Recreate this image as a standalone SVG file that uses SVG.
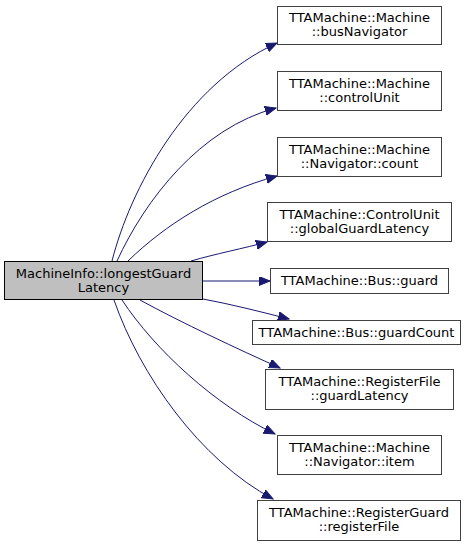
<svg xmlns="http://www.w3.org/2000/svg" width="473" height="547" viewBox="0 0 473 547">
<defs>
<style>
.n rect{fill:#ffffff;stroke:#404040;stroke-width:1}
.n.root rect{fill:#bfbfbf;stroke:#000000}
text{font-family:"DejaVu Sans","Liberation Sans",sans-serif;font-size:13px;text-anchor:middle;fill:#000000}
.e path{fill:none;stroke:#191970;stroke-width:1}
</style>
<marker id="ah" markerUnits="userSpaceOnUse" markerWidth="13" markerHeight="10" refX="11" refY="4.5" orient="auto">
<path d="M0,0 L11,4.5 L0,9 z" fill="#191970" stroke="#191970"/>
</marker>
</defs>
<rect width="473" height="547" fill="#ffffff"/>
<g id="edges" class="e">
<path d="M112,261 C130,190 185,85 277,43" marker-end="url(#ah)"/>
<path d="M117,261 C145,200 200,128 276,108" marker-end="url(#ah)"/>
<path d="M128,261 C165,225 215,193 277,176" marker-end="url(#ah)"/>
<path d="M191,261 C215,254 245,248 267,242" marker-end="url(#ah)"/>
<path d="M203,281 L270,281" marker-end="url(#ah)"/>
<path d="M203,299 C230,304 262,312 289,319" marker-end="url(#ah)"/>
<path d="M140,300 C180,322 240,350 280,368" marker-end="url(#ah)"/>
<path d="M122,300 C155,350 215,405 275,434" marker-end="url(#ah)"/>
<path d="M114,300 C140,375 200,460 273,499" marker-end="url(#ah)"/>
</g>
<g id="root" class="n root">
<rect x="4.5" y="261.5" width="198" height="38"/>
<text x="103.5" y="278">MachineInfo::longestGuard</text>
<text x="103.5" y="292">Latency</text>
</g>
<g id="busNavigator" class="n">
<rect x="277.5" y="6.5" width="164" height="38"/>
<text x="359.5" y="22">TTAMachine::Machine</text>
<text x="359.5" y="36">::busNavigator</text>
</g>
<g id="controlUnit" class="n">
<rect x="277.5" y="71.5" width="164" height="39"/>
<text x="359.5" y="87.5">TTAMachine::Machine</text>
<text x="359.5" y="101.5">::controlUnit</text>
</g>
<g id="count" class="n">
<rect x="277.5" y="137.5" width="164" height="39"/>
<text x="359.5" y="153.5">TTAMachine::Machine</text>
<text x="359.5" y="167.5">::Navigator::count</text>
</g>
<g id="globalGuardLatency" class="n">
<rect x="267.5" y="202.5" width="184" height="39"/>
<text x="359.5" y="218.5">TTAMachine::ControlUnit</text>
<text x="359.5" y="232.5">::globalGuardLatency</text>
</g>
<g id="guard" class="n">
<rect x="270.5" y="268.5" width="178" height="25"/>
<text x="359.5" y="285">TTAMachine::Bus::guard</text>
</g>
<g id="guardCount" class="n">
<rect x="252.5" y="320.5" width="208" height="24"/>
<text x="356.5" y="337">TTAMachine::Bus::guardCount</text>
</g>
<g id="guardLatency" class="n">
<rect x="265.5" y="369.5" width="188" height="40"/>
<text x="359.5" y="386">TTAMachine::RegisterFile</text>
<text x="359.5" y="400">::guardLatency</text>
</g>
<g id="item" class="n">
<rect x="277.5" y="435.5" width="164" height="39"/>
<text x="359.5" y="451.5">TTAMachine::Machine</text>
<text x="359.5" y="465.5">::Navigator::item</text>
</g>
<g id="registerFile" class="n">
<rect x="257.5" y="500.5" width="203" height="40"/>
<text x="359" y="517">TTAMachine::RegisterGuard</text>
<text x="359" y="531">::registerFile</text>
</g>
</svg>
